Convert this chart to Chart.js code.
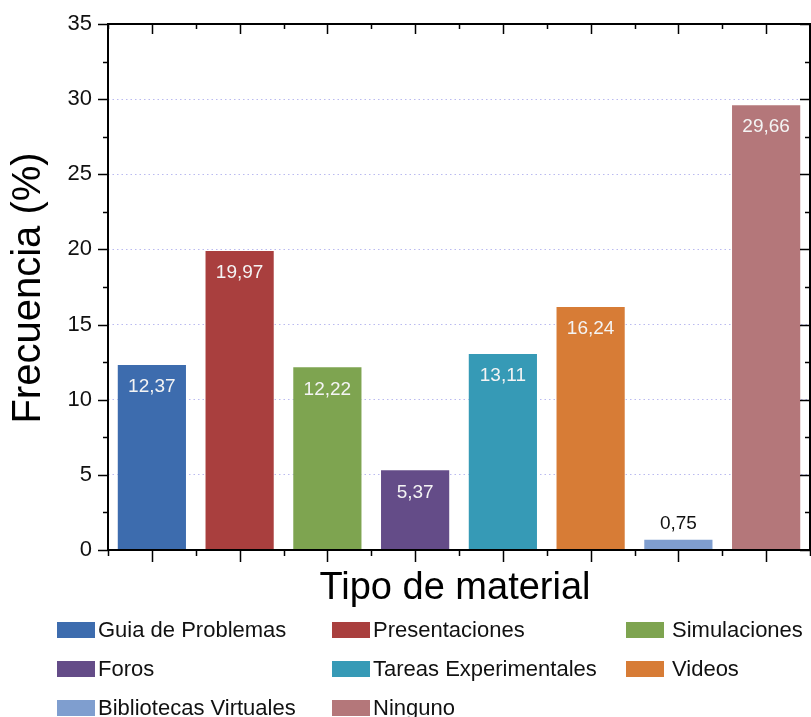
<!DOCTYPE html>
<html>
<head>
<meta charset="utf-8">
<script src="https://cdn.jsdelivr.net/npm/chart.js@4/dist/chart.umd.min.js"></script>
<style>
  html, body { margin: 0; padding: 0; background: #fff; }
  canvas { display: block; }
</style>
</head>
<body>
<canvas id="myChart" width="811" height="717"></canvas>
<script>
const categories = ["Guia de Problemas", "Presentaciones", "Simulaciones", "Foros", "Tareas Experimentales", "Videos", "Bibliotecas Virtuales", "Ninguno"];
const frequencies = [12.37, 19.97, 12.22, 5.37, 13.11, 16.24, 0.75, 29.66];
const barColors = ["#3D6CAE", "#A93F3E", "#7EA450", "#644C88", "#369AB6", "#D77C36", "#7F9ECF", "#B4777A"];
const yTicks = [0, 5, 10, 15, 20, 25, 30, 35];

const FONT = "'Liberation Sans', Arial, sans-serif";

const decorPlugin = {
  id: "decor",
  afterDatasetsDraw(chart) {
    const ctx = chart.ctx;
    const area = chart.chartArea;
    const x = chart.scales.x;
    const y = chart.scales.y;
    ctx.save();

    // box
    ctx.strokeStyle = "#000";
    ctx.lineWidth = 2;
    ctx.strokeRect(area.left, area.top, area.right - area.left, area.bottom - area.top);

    // y ticks (left outward, right inward)
    ctx.lineWidth = 1.5;
    for (let v = 0; v <= 35; v += 2.5) {
      const py = Math.round(y.getPixelForValue(v)) + 0.5;
      const len = v % 5 === 0 ? 10 : 5;
      ctx.beginPath();
      ctx.moveTo(area.left - len, py);
      ctx.lineTo(area.left, py);
      ctx.moveTo(area.right - len, py);
      ctx.lineTo(area.right, py);
      ctx.stroke();
    }

    // x ticks (bottom outward, top inward)
    const n = categories.length;
    const step = (area.right - area.left) / n;
    for (let i = 0; i <= n; i++) {
      const px = Math.round(area.left + i * step) + 0.5;
      ctx.beginPath();
      ctx.moveTo(px, area.bottom);
      ctx.lineTo(px, area.bottom + 6);
      ctx.moveTo(px, area.top);
      ctx.lineTo(px, area.top + 5);
      ctx.stroke();
    }
    for (let i = 0; i < n; i++) {
      const px = Math.round(x.getPixelForValue(i)) + 0.5;
      ctx.beginPath();
      ctx.moveTo(px, area.bottom);
      ctx.lineTo(px, area.bottom + 12);
      ctx.moveTo(px, area.top);
      ctx.lineTo(px, area.top + 10);
      ctx.stroke();
    }

    // value labels
    ctx.font = "19px " + FONT;
    ctx.textAlign = "center";
    ctx.textBaseline = "middle";
    const meta = chart.getDatasetMeta(0);
    meta.data.forEach((bar, i) => {
      const label = frequencies[i].toFixed(2).replace(".", ",");
      if (bar.base - bar.y > 40) {
        ctx.fillStyle = "#f4f4f4";
        ctx.fillText(label, bar.x, bar.y + 23);
      } else {
        ctx.fillStyle = "#111";
        ctx.fillText(label, bar.x, bar.y - 15);
      }
    });

    // axis titles
    ctx.fillStyle = "#000";
    ctx.font = "38px " + FONT;
    ctx.fillText("Tipo de material", 455, 589);
    ctx.save();
    ctx.translate(29, 288);
    ctx.rotate(-Math.PI / 2);
    ctx.font = "40px " + FONT;
    ctx.fillText("Frecuencia (%)", 0, 0);
    ctx.restore();

    // legend, three columns
    const colBox = [57, 332, 626];
    const colText = [98, 373, 672];
    const rowY = [630, 669, 708];
    ctx.font = "22px " + FONT;
    ctx.textAlign = "left";
    categories.forEach((name, i) => {
      const c = i % 3;
      const r = Math.floor(i / 3);
      ctx.fillStyle = barColors[i];
      ctx.fillRect(colBox[c], rowY[r] - 8, 38, 16);
      ctx.fillStyle = "#111";
      ctx.fillText(name, colText[c], rowY[r] + 1);
    });

    ctx.restore();
  }
};

const ctx = document.getElementById("myChart").getContext("2d");
const myChart = new Chart(ctx, {
  type: "bar",
  data: {
    labels: categories,
    datasets: [
      {
        data: frequencies,
        backgroundColor: barColors,
        borderColor: "rgba(255,255,255,0.35)",
        borderWidth: 1,
        barPercentage: 0.8,
        categoryPercentage: 1,
      },
    ],
  },
  options: {
    responsive: false,
    animation: false,
    devicePixelRatio: 1,
    layout: { padding: { top: 24, right: 1, left: 0, bottom: 0 } },
    plugins: {
      legend: { display: false },
      tooltip: { enabled: false },
    },
    scales: {
      x: {
        grid: { display: false },
        border: { display: false },
        ticks: { display: false },
        afterFit(scale) { scale.height = 167; },
      },
      y: {
        min: 0,
        max: 35,
        afterBuildTicks(scale) { scale.ticks = yTicks.map(v => ({ value: v })); },
        ticks: {
          padding: 4,
          color: "#111",
          font: { family: FONT, size: 22 },
        },
        grid: {
          drawTicks: true,
          tickLength: 12,
          tickColor: "rgba(0,0,0,0)",
          color: (c) => (c.tick && c.tick.value > 0 && c.tick.value < 35) ? "#babaf0" : "rgba(0,0,0,0)",
          lineWidth: 1,
        },
        border: { display: false, dash: [1.5, 3] },
        afterFit(scale) { scale.width = 108; },
      },
    },
  },
  plugins: [decorPlugin],
});
</script>
</body>
</html>
